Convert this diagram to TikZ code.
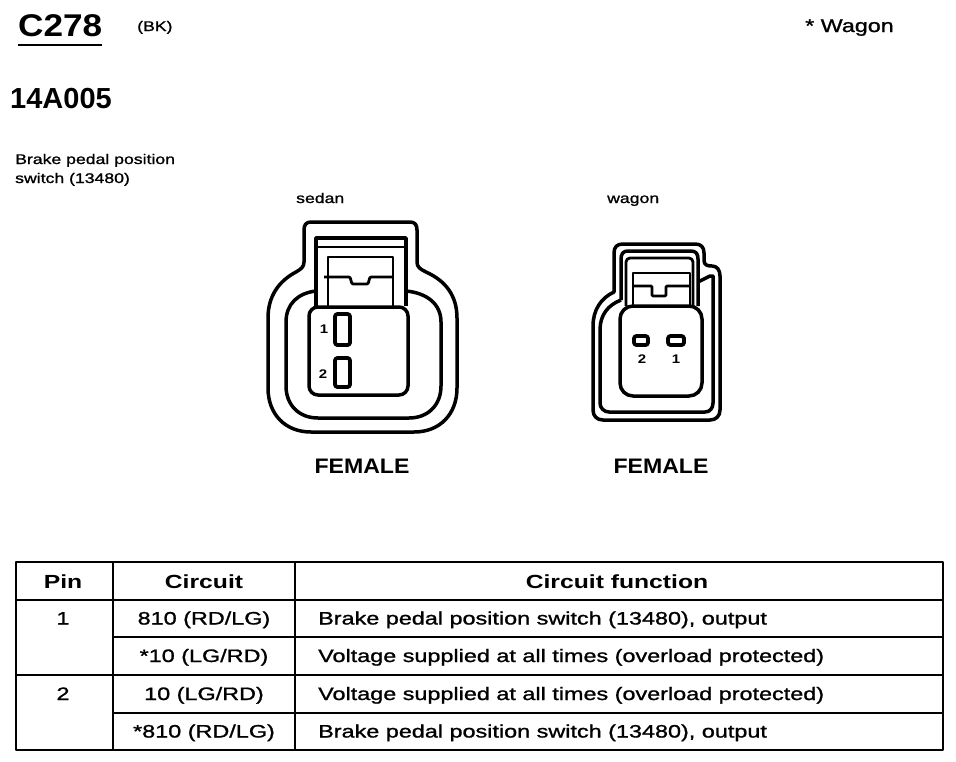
\documentclass[tikz,border=0pt]{standalone}
\usepackage{fontspec}
\setmainfont{Liberation Sans}
\newfontfamily\fC[FakeStretch=1.12]{Liberation Sans}
\newfontfamily\fN{Liberation Sans}
\newfontfamily\fF[FakeStretch=1.1]{Liberation Sans}
\newfontfamily\fA[FakeStretch=1.26,FakeBold=1.2]{Liberation Sans}
\newfontfamily\fB[FakeStretch=1.2]{Liberation Sans}
\newfontfamily\fT[FakeStretch=1.3,FakeBold=1.2]{Liberation Sans}
\newfontfamily\fH[FakeStretch=1.3]{Liberation Sans}
\begin{document}
\begin{tikzpicture}[x=1pt,y=-1pt,line join=round,
  wall/.style={line width=3.5pt},
  lat/.style={line width=2.8pt},
  slot/.style={line width=3.8pt,rounded corners=2.5pt},
  tline/.style={line width=2pt},
  tframe/.style={line width=2.8pt},
  txt/.style={inner sep=0pt,anchor=base west},
  ctxt/.style={inner sep=0pt,anchor=base},
  tbody/.style={font=\fT\fontsize{18}{20}\selectfont},
  thead/.style={font=\fH\bfseries\fontsize{19}{21}\selectfont},
  small/.style={font=\fA\fontsize{14}{19}\selectfont},
  pinlab/.style={inner sep=0pt,font=\fB\bfseries\fontsize{12.5}{14}\selectfont},
  female/.style={inner sep=0pt,anchor=base,font=\fF\bfseries\fontsize{21}{24}\selectfont}]
\useasboundingbox[fill=white] (0,0) rectangle (956,761);

% ---------- header texts ----------
\node[txt,font=\fC\bfseries\fontsize{31.4}{34}\selectfont] (c278) at (18,36) {C278};
\draw[line width=2.8pt] (18,45) -- (102,45);
\node[txt,small] (bk) at (137,31) {(BK)};
\node[txt,font=\fA\fontsize{18.5}{20}\selectfont] (wag) at (805,32) {* Wagon};
\node[txt,font=\fN\bfseries\fontsize{29}{32}\selectfont] (code) at (10,108) {14A005};
\node[txt,small] (desc1) at (15,164) {Brake pedal position};
\node[txt,small] (desc2) at (15,183) {switch (13480)};
\node[txt,small] (sedlab) at (296,203) {sedan};
\node[txt,small] (waglab) at (607,203) {wagon};

% ---------- sedan connector ----------
\draw[wall] (304,262) -- (304,230) .. controls (304,225) and (306,222) .. (311,222)
  -- (410,222) .. controls (415,222) and (417,225) .. (417,230) -- (417,262)
  .. controls (417,267) and (420,269) .. (426,272)
  .. controls (446,281) and (457,296) .. (457,318) -- (457,388)
  .. controls (457,414) and (440,432) .. (414,432) -- (311,432)
  .. controls (285,432) and (268,414) .. (268,388) -- (268,318)
  .. controls (268,296) and (279,281) .. (296,272)
  .. controls (301,269) and (304,267) .. (304,262) -- cycle;
\draw[wall] (316,291) .. controls (298,293) and (286,304) .. (286,322) -- (286,386)
  .. controls (286,405) and (299,418) .. (318,418) -- (409,418)
  .. controls (428,418) and (441,405) .. (441,386) -- (441,322)
  .. controls (441,304) and (427,293) .. (406,291);
\draw[wall] (316,306) -- (316,238) -- (406,238) -- (406,306);
\draw[lat] (316,247) -- (406,247);
\draw[lat] (328,306) -- (328,257) -- (393,257) -- (393,306);
\draw[lat,rounded corners=1pt] (324,277) -- (350,277) -- (352,284) -- (368,284) -- (370,277) -- (393,277);
\draw[wall,fill=white,rounded corners=9pt] (309,307) rectangle (408,395);
\draw[slot] (335,314) rectangle (350,345);
\draw[slot] (335,358) rectangle (350,387);
\node[pinlab] (s1) at (324,329) {1};
\node[pinlab] (s2) at (323,374) {2};
\node[female] (fem1) at (362,473) {FEMALE};

% ---------- wagon connector ----------
\draw[wall] (614,292) -- (614,253) .. controls (614,247) and (617,244) .. (623,244)
  -- (695,244) .. controls (701,244) and (704,247) .. (704,253) -- (704,260)
  .. controls (704,265) and (707,266) .. (712,266)
  .. controls (717,266) and (720,270) .. (720,276) -- (720,410)
  .. controls (720,416) and (716,420) .. (710,420) -- (603,420)
  .. controls (597,420) and (593,416) .. (593,410) -- (593,326)
  .. controls (593,310) and (601,298) .. (614,292) -- cycle;
\draw[wall] (621,300) -- (621,259) .. controls (621,254) and (623,251) .. (628,251)
  -- (691,251) .. controls (696,251) and (698,254) .. (698,259) -- (698,306);
\draw[wall] (698,282) -- (710,276) -- (713,276) -- (713,403)
  .. controls (713,408) and (710,412) .. (705,412) -- (609,412)
  .. controls (604,412) and (600,408) .. (600,403) -- (600,330)
  .. controls (600,315) and (608,305) .. (621,300);
\draw[lat,rounded corners=4pt] (626,306) -- (626,258) -- (693,258) -- (693,306);
\draw[lat] (633,306) -- (633,273) -- (690,273) -- (690,306);
\draw[lat,rounded corners=1pt] (633,286) -- (652,286) -- (652,296) -- (666,296) -- (666,286) -- (690,286);
\draw[wall,fill=white,rounded corners=13pt] (620,306) rectangle (702,396);
\draw[slot] (634,336) rectangle (648,345);
\draw[slot] (668,336) rectangle (684,345);
\node[pinlab] (w2) at (642,359) {2};
\node[pinlab] (w1) at (676,359) {1};
\node[female] (fem2) at (661,473) {FEMALE};

% ---------- table ----------
\draw[tline] (16,600) -- (943,600);
\draw[tline] (113,637) -- (943,637);
\draw[tline] (16,675) -- (943,675);
\draw[tline] (113,713) -- (943,713);
\draw[tline] (113,562) -- (113,750);
\draw[tline] (295,562) -- (295,750);
\draw[tframe] (16,562) rectangle (943,750);

\node[ctxt,thead] (hpin) at (63,588) {Pin};
\node[ctxt,thead] (hcir) at (204,588) {Circuit};
\node[ctxt,thead] (hfun) at (617,588) {Circuit function};

\node[ctxt,tbody] (p1) at (63,624.5) {1};
\node[ctxt,tbody] (p2) at (63,700) {2};

\node[ctxt,tbody] (c1) at (204,624.5) {810 (RD/LG)};
\node[ctxt,tbody] (c2) at (204,662) {*10 (LG/RD)};
\node[ctxt,tbody] (c3) at (204,700) {10 (LG/RD)};
\node[ctxt,tbody] (c4) at (204,737.5) {*810 (RD/LG)};

\node[txt,tbody] (f1) at (318,624.5) {Brake pedal position switch (13480), output};
\node[txt,tbody] (f2) at (318,662) {Voltage supplied at all times (overload protected)};
\node[txt,tbody] (f3) at (318,700) {Voltage supplied at all times (overload protected)};
\node[txt,tbody] (f4) at (318,737.5) {Brake pedal position switch (13480), output};
\end{tikzpicture}
\end{document}
